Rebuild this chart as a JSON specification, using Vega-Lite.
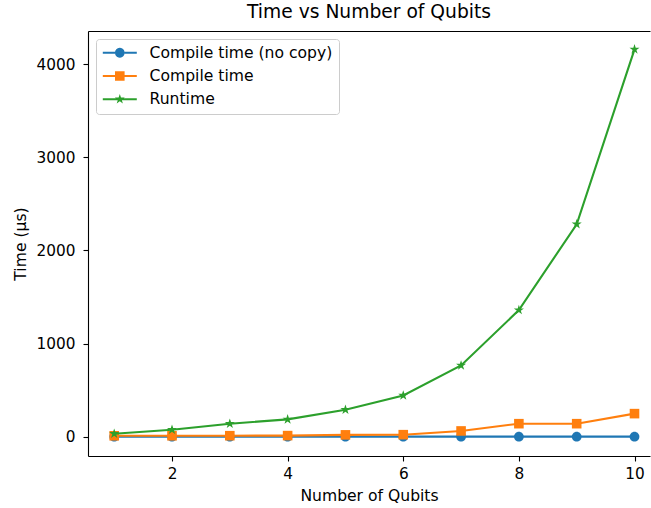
{
  "$schema": "https://vega.github.io/schema/vega-lite/v6.json",
  "width": 562,
  "height": 425,
  "autosize": {"type": "none"},
  "padding": {"left": 88, "top": 31, "right": 1, "bottom": 52},
  "title": {"text": "Time vs Number of Qubits", "fontSize": 18.7, "fontWeight": "normal", "font": "DejaVu Sans", "color": "#000000", "anchor": "middle", "frame": "group", "baseline": "alphabetic", "offset": -6},
  "config": {
    "font": "DejaVu Sans",
    "view": {"stroke": null},
    "axis": {"labelFontSize": 15.3, "titleFontSize": 15.6, "titleFontWeight": "normal", "labelColor": "#000000", "titleColor": "#000000", "tickColor": "#000000", "domainColor": "#000000", "tickWidth": 1.1, "domainWidth": 1.1, "tickSize": 5, "grid": false, "labelPadding": 4, "labelFont": "DejaVu Sans", "titleFont": "DejaVu Sans"},
    "legend": {"labelFont": "DejaVu Sans", "orient": "top-left", "offset": 8, "padding": 6, "strokeColor": "#cccccc", "fillColor": "rgba(255,255,255,0.8)", "cornerRadius": 3, "labelFontSize": 15.6, "labelColor": "#000000", "labelLimit": 300, "symbolSize": 196, "rowPadding": 6.2, "labelOffset": 32, "symbolStrokeWidth": 0, "symbolOpacity": 1}
  },
  "data": {"values": [
    {"q": 1, "series": "Compile time (no copy)", "t": 1},
    {"q": 2, "series": "Compile time (no copy)", "t": 1},
    {"q": 3, "series": "Compile time (no copy)", "t": 1},
    {"q": 4, "series": "Compile time (no copy)", "t": 1},
    {"q": 5, "series": "Compile time (no copy)", "t": 1},
    {"q": 6, "series": "Compile time (no copy)", "t": 1},
    {"q": 7, "series": "Compile time (no copy)", "t": 1},
    {"q": 8, "series": "Compile time (no copy)", "t": 1},
    {"q": 9, "series": "Compile time (no copy)", "t": 1},
    {"q": 10, "series": "Compile time (no copy)", "t": 1},
    {"q": 1, "series": "Compile time", "t": 10},
    {"q": 2, "series": "Compile time", "t": 10},
    {"q": 3, "series": "Compile time", "t": 11},
    {"q": 4, "series": "Compile time", "t": 12},
    {"q": 5, "series": "Compile time", "t": 20},
    {"q": 6, "series": "Compile time", "t": 22},
    {"q": 7, "series": "Compile time", "t": 62},
    {"q": 8, "series": "Compile time", "t": 140},
    {"q": 9, "series": "Compile time", "t": 140},
    {"q": 10, "series": "Compile time", "t": 248},
    {"q": 1, "series": "Runtime", "t": 32},
    {"q": 2, "series": "Runtime", "t": 75},
    {"q": 3, "series": "Runtime", "t": 140},
    {"q": 4, "series": "Runtime", "t": 186},
    {"q": 5, "series": "Runtime", "t": 290},
    {"q": 6, "series": "Runtime", "t": 443},
    {"q": 7, "series": "Runtime", "t": 765},
    {"q": 8, "series": "Runtime", "t": 1360},
    {"q": 9, "series": "Runtime", "t": 2282},
    {"q": 10, "series": "Runtime", "t": 4160}
  ]},
  "encoding": {
    "x": {"field": "q", "type": "quantitative", "scale": {"domain": [0.547, 10.268], "nice": false, "zero": false}, "axis": null},
    "y": {"field": "t", "type": "quantitative", "scale": {"domain": [-207, 4357], "nice": false, "zero": false}, "axis": {"values": [0, 1000, 2000, 3000, 4000], "format": "d", "title": "Time (\u00b5s)", "titlePadding": 8, "labelPadding": 8}},
    "color": {"field": "series", "type": "nominal", "scale": {"domain": ["Compile time (no copy)", "Compile time", "Runtime"], "range": ["#1f77b4", "#ff7f0e", "#2ca02c"]}, "legend": {"title": null}}
  },
  "layer": [
    {
      "transform": [{"filter": "datum.series === 'Compile time (no copy)'"}],
      "mark": {"type": "line", "strokeWidth": 2.1},
      "encoding": {
        "x": {"field": "q", "type": "quantitative", "scale": {"domain": [0.547, 10.268], "nice": false, "zero": false}, "axis": {"orient": "bottom", "values": [2, 4, 6, 8, 10], "title": "Number of Qubits", "titlePadding": 7, "labelPadding": 5.5}}
      }
    },
    {
      "transform": [{"filter": "datum.series === 'Compile time (no copy)'"}],
      "mark": {"type": "point", "filled": true, "size": 94, "opacity": 1, "strokeWidth": 0, "shape": "M-1,0A1,1 0 1,0 1,0A1,1 0 1,0 -1,0Z"}
    },
    {
      "transform": [{"filter": "datum.series === 'Compile time'"}],
      "mark": {"type": "line", "strokeWidth": 2.1}
    },
    {
      "transform": [{"filter": "datum.series === 'Compile time'"}],
      "mark": {"type": "point", "filled": true, "size": 92, "opacity": 1, "strokeWidth": 0, "shape": "M-1,-1H1V1H-1Z"}
    },
    {
      "transform": [{"filter": "datum.series === 'Runtime'"}],
      "mark": {"type": "line", "strokeWidth": 2.1}
    },
    {
      "transform": [{"filter": "datum.series === 'Runtime'"}],
      "mark": {"type": "point", "filled": true, "size": 112, "opacity": 1, "strokeWidth": 0, "shape": "M0,-1L0.2245,-0.309L0.951,-0.309L0.363,0.118L0.588,0.809L0,0.382L-0.588,0.809L-0.363,0.118L-0.951,-0.309L-0.2245,-0.309Z"}
    },
    {
      "mark": {"type": "point", "filled": true, "opacity": 0},
      "encoding": {
        "x": {"field": "q", "type": "quantitative", "scale": {"domain": [0.547, 10.268], "nice": false, "zero": false}, "axis": {"orient": "top", "labels": false, "ticks": false, "title": null, "domain": true, "minExtent": 0}},
        "shape": {"field": "series", "type": "nominal", "scale": {"domain": ["Compile time (no copy)", "Compile time", "Runtime"], "range": [
          "M-1,-0.15H0.743V0.15H-1Z M2.114,-0.15H3.857V0.15H2.114Z M0.743,0A0.686,0.686 0 1,0 2.114,0A0.686,0.686 0 1,0 0.743,0Z",
          "M-1,-0.15H0.743V0.15H-1Z M2.114,-0.15H3.857V0.15H2.114Z M0.743,-0.686H2.114V0.686H0.743Z",
          "M-1,-0.15H3.857V0.15H-1Z M1.429,-0.75L1.597,-0.232L2.142,-0.232L1.701,0.088L1.870,0.607L1.429,0.287L0.988,0.607L1.157,0.088L0.716,-0.232L1.261,-0.232Z"
        ]}, "legend": {"title": null}}
      }
    }
  ],
  "resolve": {"axis": {"x": "independent"}}
}
